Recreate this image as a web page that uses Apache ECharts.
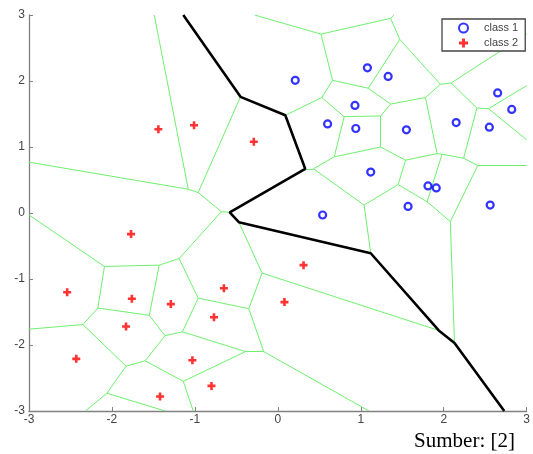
<!DOCTYPE html>
<html>
<head>
<meta charset="utf-8">
<script src="https://cdn.jsdelivr.net/npm/echarts@6/dist/echarts.min.js"></script>
<style>html,body{margin:0;padding:0;background:#fff}#c{width:533px;height:454px}</style>
</head>
<body>
<div id="c"></div>
<script>
// class 1 points (blue circles)
var class1 = [
  [0.21, 2.01], [1.08, 2.20], [1.33, 2.07], [0.93, 1.63], [0.60, 1.35],
  [0.94, 1.28], [1.55, 1.26], [2.15, 1.37], [2.55, 1.30], [2.65, 1.82],
  [2.82, 1.57], [1.12, 0.62], [1.81, 0.41], [1.91, 0.38], [1.57, 0.10],
  [2.56, 0.12], [0.54, -0.03]
];
// class 2 points (red plus)
var class2 = [
  [-1.44, 1.27], [-1.01, 1.33], [-0.29, 1.08], [-1.77, -0.32], [-2.54, -1.20],
  [-1.76, -1.30], [-1.29, -1.38], [-0.65, -1.14], [-0.77, -1.58], [-1.83, -1.72],
  [-2.43, -2.21], [-1.03, -2.23], [-0.80, -2.62], [-1.42, -2.78], [0.31, -0.79],
  [0.08, -1.35]
];
// decision boundary (black polyline)
var boundary = [
  [-1.14, 3.00], [-0.45, 1.76], [0.09, 1.48], [0.33, 0.67], [-0.58, 0.01],
  [-0.47, -0.14], [1.12, -0.61], [1.94, -1.78], [2.13, -1.97], [2.73, -3.00]
];
// Voronoi edges [x1, y1, x2, y2]
var voronoiEdges = [
  [-1.49, 3.00, -1.08, 0.36], [-3.00, 0.77, -1.08, 0.36], [-1.08, 0.36, -0.96, 0.31],
  [-0.96, 0.31, -0.45, 1.76], [-0.96, 0.31, -0.68, 0.02], [-0.68, 0.02, -0.58, 0.01],
  [-0.68, 0.02, -1.19, -0.69], [-1.19, -0.69, -1.43, -0.79], [-1.19, -0.69, -0.96, -1.29],
  [-0.47, -0.14, -0.19, -0.91], [-0.19, -0.91, -0.35, -1.45], [-0.19, -0.91, 1.94, -1.78],
  [-0.35, -1.45, -0.96, -1.29], [-0.35, -1.45, -0.17, -2.10], [-0.96, -1.29, -1.15, -1.80],
  [-0.17, -2.10, -0.39, -2.10], [-0.17, -2.10, 1.10, -3.00], [-0.39, -2.10, -1.15, -1.80],
  [-0.39, -2.10, -1.14, -2.55], [-1.14, -2.55, -1.02, -3.00], [-1.14, -2.55, -1.60, -2.24],
  [-1.15, -1.80, -1.36, -1.86], [-1.36, -1.86, -1.55, -1.55], [-1.36, -1.86, -1.60, -2.24],
  [-1.60, -2.24, -1.83, -2.32], [-1.83, -2.32, -2.35, -1.69], [-1.83, -2.32, -2.06, -2.73],
  [-2.06, -2.73, -2.32, -3.00], [-2.06, -2.73, -1.36, -3.00], [-2.35, -1.69, -2.17, -1.44],
  [-2.35, -1.69, -3.00, -1.76], [-2.17, -1.44, -2.09, -0.81], [-2.17, -1.44, -1.55, -1.55],
  [-1.55, -1.55, -1.43, -0.79], [-1.43, -0.79, -2.09, -0.81], [-2.09, -0.81, -3.00, -0.03],
  [0.09, 1.48, 0.53, 1.75], [0.53, 1.75, 0.66, 2.01], [0.53, 1.75, 0.80, 1.46],
  [0.66, 2.01, 0.52, 2.71], [0.66, 2.01, 1.09, 1.89], [0.52, 2.71, -0.28, 3.00],
  [0.52, 2.71, 1.36, 2.95], [1.36, 2.95, 1.40, 3.00], [1.36, 2.95, 1.47, 2.63],
  [1.47, 2.63, 1.09, 1.89], [1.47, 2.63, 1.96, 1.95], [1.09, 1.89, 1.36, 1.65],
  [0.80, 1.46, 1.24, 1.47], [0.80, 1.46, 0.68, 0.85], [1.24, 1.47, 1.36, 1.65],
  [1.24, 1.47, 1.24, 1.00], [1.36, 1.65, 1.78, 1.75], [1.78, 1.75, 1.96, 1.95],
  [1.78, 1.75, 1.92, 0.90], [1.96, 1.95, 2.09, 1.97], [2.09, 1.97, 3.00, 2.71],
  [2.09, 1.97, 2.40, 1.59], [2.40, 1.59, 2.54, 1.58], [2.40, 1.59, 2.24, 0.83],
  [2.54, 1.58, 3.00, 1.93], [2.54, 1.58, 3.00, 1.11], [2.24, 0.83, 1.98, 0.89],
  [2.24, 0.83, 2.41, 0.72], [2.41, 0.72, 3.00, 0.72], [2.41, 0.72, 2.08, -0.13],
  [1.92, 0.90, 1.98, 0.89], [1.92, 0.90, 1.54, 0.80], [1.98, 0.89, 1.80, 0.17],
  [1.54, 0.80, 1.24, 1.00], [1.54, 0.80, 1.45, 0.43], [1.24, 1.00, 0.68, 0.85],
  [0.68, 0.85, 0.43, 0.67], [0.43, 0.67, 0.33, 0.67], [0.43, 0.67, 1.04, 0.12],
  [1.04, 0.12, 1.12, -0.61], [1.04, 0.12, 1.45, 0.43], [1.45, 0.43, 1.80, 0.17],
  [1.80, 0.17, 2.08, -0.13], [2.08, -0.13, 2.13, -1.97]
];
var xTicks = [-3, 3, 1];
var yTicks = [-3, 3, 1];

var plusPath = 'path://M-1.3,-4H1.3V-1.3H4V1.3H1.3V4H-1.3V1.3H-4V-1.3H-1.3Z';
var chart = echarts.init(document.getElementById('c'), null, {renderer: 'canvas'});
var axisCommon = {
  type: 'value',
  axisLine: {show: true, onZero: false, lineStyle: {color: '#808080', width: 1.3}},
  axisTick: {show: true, inside: true, length: 4, lineStyle: {color: '#808080', width: 1}},
  axisLabel: {color: '#444', fontSize: 12, fontFamily: 'Liberation Sans, Arial, sans-serif'},
  splitLine: {show: false}
};
chart.setOption({
  animation: false,
  backgroundColor: '#fff',
  grid: {left: 29, right: 3, top: 15, bottom: 43, containLabel: false},
  xAxis: Object.assign({}, axisCommon, {
    position: 'bottom',
    min: xTicks[0], max: xTicks[1], interval: xTicks[2],
    axisLabel: Object.assign({}, axisCommon.axisLabel, {margin: 3})
  }),
  yAxis: Object.assign({}, axisCommon, {
    position: 'left',
    min: yTicks[0], max: yTicks[1], interval: yTicks[2],
    axisLabel: Object.assign({}, axisCommon.axisLabel, {margin: 4})
  }),
  legend: {
    orient: 'vertical', left: 442, top: 19,
    data: ['class 1', 'class 2'],
    backgroundColor: '#fff', borderColor: '#444', borderWidth: 1.3, borderRadius: 0,
    padding: [3, 7, 2, 16],
    itemWidth: 31, itemHeight: 9, itemGap: 3,
    textStyle: {fontSize: 11, color: '#444', fontFamily: 'Liberation Sans, Arial, sans-serif', lineHeight: 12},
    z: 10
  },
  graphic: [{
    type: 'text', right: 18, bottom: 2,
    style: {text: 'Sumber: [2]', font: '21px "Liberation Serif", "Times New Roman", serif', fill: '#000'}
  }],
  series: [
    {
      type: 'lines', coordinateSystem: 'cartesian2d', silent: true, z: 1,
      lineStyle: {color: '#6ef06e', width: 1, opacity: 1},
      data: voronoiEdges.map(function (e) { return {coords: [[e[0], e[1]], [e[2], e[3]]]}; })
    },
    {
      type: 'line', name: 'boundary', data: boundary, showSymbol: false, silent: true, z: 2,
      lineStyle: {color: '#000', width: 2.6}
    },
    {
      type: 'scatter', name: 'class 1', data: class1, z: 3,
      symbol: 'circle', symbolSize: 7,
      itemStyle: {color: 'rgba(255,255,255,0)', borderColor: '#0000ff', borderWidth: 2.2}
    },
    {
      type: 'scatter', name: 'class 2', data: class2, z: 3,
      symbol: plusPath, symbolSize: 8,
      itemStyle: {color: '#ff0000'}
    }
  ]
});
</script>
</body>
</html>
